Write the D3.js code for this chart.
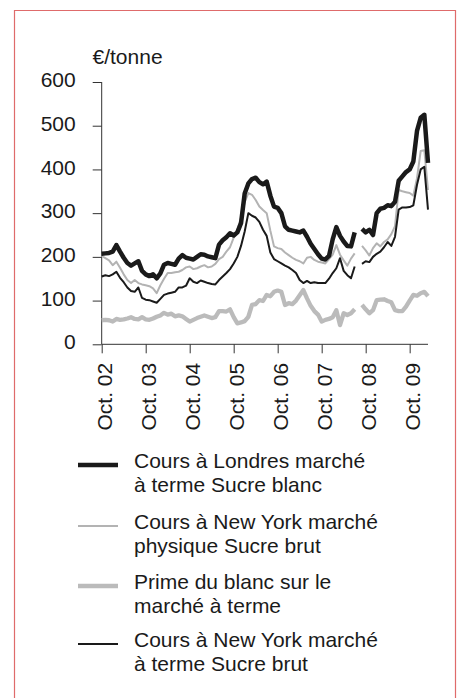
<!DOCTYPE html>
<html><head><meta charset="utf-8">
<script src="https://cdn.jsdelivr.net/npm/d3@7"></script>
<style>
html,body{margin:0;padding:0;background:#fff;}
svg{display:block;font-family:"Liberation Sans",Arial,Helvetica,sans-serif;}
</style></head>
<body><svg id="c" width="461" height="698"></svg>
<script>
const xTickLabels = ["Oct. 02","Oct. 03","Oct. 04","Oct. 05","Oct. 06","Oct. 07","Oct. 08","Oct. 09"];
const yTicks = [0,100,200,300,400,500,600];
const unitLabel = "€/tonne";

const londonWhite = [207,208,209,212,227,212,198,186,180,185,
 190,168,160,156,160,151,162,182,186,184,
 182,196,204,198,196,194,200,206,205,201,
 199,197,228,238,245,254,249,256,277,345,
 368,378,381,371,366,372,340,315,312,300,
 270,262,260,258,256,260,246,230,218,206,
 196,194,202,240,268,248,235,225,224,256,
 null,264,256,262,250,300,310,312,318,316,
 326,374,384,394,400,418,488,518,525,415];

const nyPhysical = [202,197,192,181,189,175,160,147,140,147,
 140,137,135,133,128,117,135,150,163,163,
 165,166,170,176,178,172,174,178,181,176,
 178,184,195,200,212,222,244,262,290,325,
 346,342,330,315,307,300,260,224,220,218,
 210,204,198,193,190,185,198,200,193,189,
 187,185,195,205,227,205,192,180,196,208,
 null,225,215,203,220,231,224,234,240,252,
 270,353,350,348,346,340,380,442,444,353];

const whitePremium = [55,56,55,52,58,56,57,59,62,58,
 57,62,57,56,59,63,66,72,68,70,
 64,66,64,58,52,56,60,63,66,63,
 60,62,76,76,75,80,62,48,50,53,
 63,90,92,101,99,113,110,120,123,120,
 90,94,92,100,112,124,105,88,76,68,
 52,56,58,62,78,44,71,67,71,80,
 null,90,80,71,78,101,102,103,99,96,
 78,76,76,86,100,113,111,117,120,110];

const nyFutures = [155,158,156,160,166,152,142,130,122,120,
 130,106,102,101,98,95,104,113,116,118,
 120,130,130,134,151,143,140,146,143,140,
 138,137,147,155,163,172,185,200,225,258,
 300,294,290,280,262,248,210,195,190,185,
 180,176,170,163,147,140,145,140,142,140,
 140,140,150,163,174,197,168,158,151,178,
 null,184,190,188,200,207,212,222,234,225,
 246,308,313,313,314,318,365,400,406,308];

const legendLabels = [
 ["Cours à Londres marché","à terme Sucre blanc"],
 ["Cours à New York marché","physique Sucre brut"],
 ["Prime du blanc sur le","marché à terme"],
 ["Cours à New York marché","à terme Sucre brut"]
];

const svg = d3.select("#c");
const ink = "#1a1a1a";

// frame
svg.append("path").attr("d","M14.5,700 V10.5 H455.5 V700")
  .attr("fill","none").attr("stroke","#df6b6b").attr("stroke-width",1.2);

const x = d3.scaleLinear().domain([0, 89]).range([101.7, 428]);
const y = d3.scaleLinear().domain([0, 600]).range([344.3, 82]);

// y axis
const yAxis = d3.axisLeft(y).tickValues(yTicks).tickSize(9).tickPadding(17).tickFormat(d3.format("d"));
const gy = svg.append("g").attr("transform","translate(101.7,0)").call(yAxis);
gy.select(".domain").attr("stroke","#333").attr("d","M0,"+y(600)+"V"+y(0));
gy.selectAll(".tick line").attr("stroke","#333");
gy.selectAll(".tick text").attr("font-size",21).attr("fill",ink).attr("dy","0.22em")
  .attr("font-family","'Liberation Sans',Arial,sans-serif");

// x axis
const xAxis = d3.axisBottom(x).tickValues(d3.range(0, xTickLabels.length).map(i=>i*12))
  .tickSize(9).tickFormat((d,i)=>xTickLabels[i]);
const gx = svg.append("g").attr("transform","translate(0,"+y(0)+")").call(xAxis);
gx.select(".domain").attr("stroke","#333").attr("d","M"+x(0)+",0H"+x(89));
gx.selectAll(".tick line").attr("stroke","#333");
gx.selectAll(".tick text").attr("font-size",21).attr("fill",ink)
  .attr("font-family","'Liberation Sans',Arial,sans-serif")
  .attr("text-anchor","end").attr("dy",null).attr("y",null)
  .attr("transform","translate(10,18.5) rotate(-90)");

// unit label
svg.append("text").attr("x",92.5).attr("y",64).attr("font-size",21).attr("fill",ink).text(unitLabel);

const line = d3.line().defined(d=>d!=null).x((d,i)=>x(i)).y(d=>y(d));
const series = [
  {data: whitePremium, color:"#bbbbbb", w:4.3},
  {data: nyPhysical, color:"#b3b3b3", w:2},
  {data: nyFutures, color:ink, w:2},
  {data: londonWhite, color:ink, w:4.5}
];
series.forEach(s=>{
  svg.append("path").datum(s.data).attr("d",line)
   .attr("fill","none").attr("stroke",s.color).attr("stroke-width",s.w)
   .attr("stroke-linejoin","round").attr("stroke-linecap","butt");
});

// legend
const legendStyles = [
  {color:ink, w:4.5},
  {color:"#b3b3b3", w:2},
  {color:"#bbbbbb", w:4.3},
  {color:ink, w:2}
];
const legendBase = [468, 529, 589, 647];
legendLabels.forEach((lab,i)=>{
  const b = legendBase[i];
  svg.append("line").attr("x1",78).attr("x2",118).attr("y1",b-3).attr("y2",b-3)
    .attr("stroke",legendStyles[i].color).attr("stroke-width",legendStyles[i].w);
  lab.forEach((t,j)=>{
    svg.append("text").attr("x",134).attr("y",b+j*24).attr("font-size",21).attr("fill",ink).text(t);
  });
});
</script></body></html>
